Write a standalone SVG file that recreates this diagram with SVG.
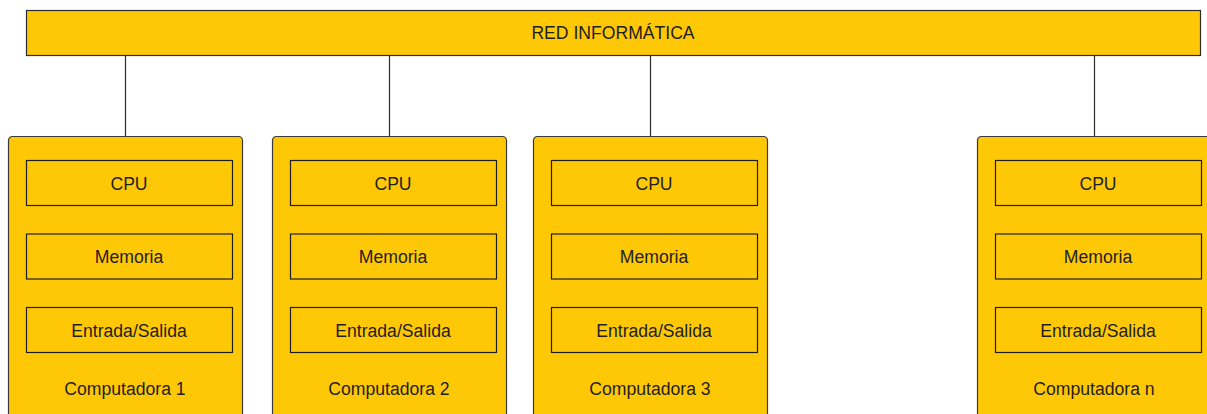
<svg xmlns="http://www.w3.org/2000/svg" width="1207" height="414" viewBox="0 0 1207 414">
  <style>
    .bar { fill: #FFC807; stroke: #2b2b2b; stroke-width: 1.2; }
    .pc { fill: #FFC807; stroke: #3a3a3a; stroke-width: 1.2; }
    .part { fill: #FFC807; stroke: #1e1e1e; stroke-width: 1.2; }
    .link { stroke: #2b2b2b; stroke-width: 1.2; fill: none; }
    text { font-family: "Liberation Sans", Arial, sans-serif; font-size: 17.6px; fill: #1f1f1f; text-anchor: middle; }
  </style>
  <defs>
    <!-- one computer: outer card with three parts and its caption -->
    <g id="pcBody">
      <rect class="pc" x="0.5" y="0.5" width="234" height="290" rx="4" ry="4"/>
      <rect class="part" x="18.5" y="24.5" width="206" height="45"/>
      <rect class="part" x="18.5" y="98" width="206" height="45"/>
      <rect class="part" x="18.5" y="171.5" width="206" height="45"/>
      <text x="121" y="54">CPU</text>
      <text x="121" y="127">Memoria</text>
      <text x="121" y="200.5">Entrada/Salida</text>
    </g>
  </defs>

  <!-- connectors from the network bus down to each computer -->
  <g id="connectors">
    <line class="link" x1="125.5" y1="55" x2="125.5" y2="136.5"/>
    <line class="link" x1="389.5" y1="55" x2="389.5" y2="136.5"/>
    <line class="link" x1="650.5" y1="55" x2="650.5" y2="136.5"/>
    <line class="link" x1="1094.5" y1="55" x2="1094.5" y2="136.5"/>
  </g>

  <!-- network bus -->
  <g id="red">
    <rect class="bar" x="26.5" y="10.5" width="1174" height="45"/>
    <text x="613" y="38.5">RED INFORMÁTICA</text>
  </g>

  <g id="computadora1" transform="translate(8,136)">
    <use href="#pcBody"/>
    <text x="117" y="259">Computadora 1</text>
  </g>

  <g id="computadora2" transform="translate(272,136)">
    <use href="#pcBody"/>
    <text x="117" y="259">Computadora 2</text>
  </g>

  <g id="computadora3" transform="translate(533,136)">
    <use href="#pcBody"/>
    <text x="117" y="259">Computadora 3</text>
  </g>

  <g id="computadoran" transform="translate(977,136)">
    <use href="#pcBody"/>
    <text x="117" y="259">Computadora n</text>
  </g>
</svg>
